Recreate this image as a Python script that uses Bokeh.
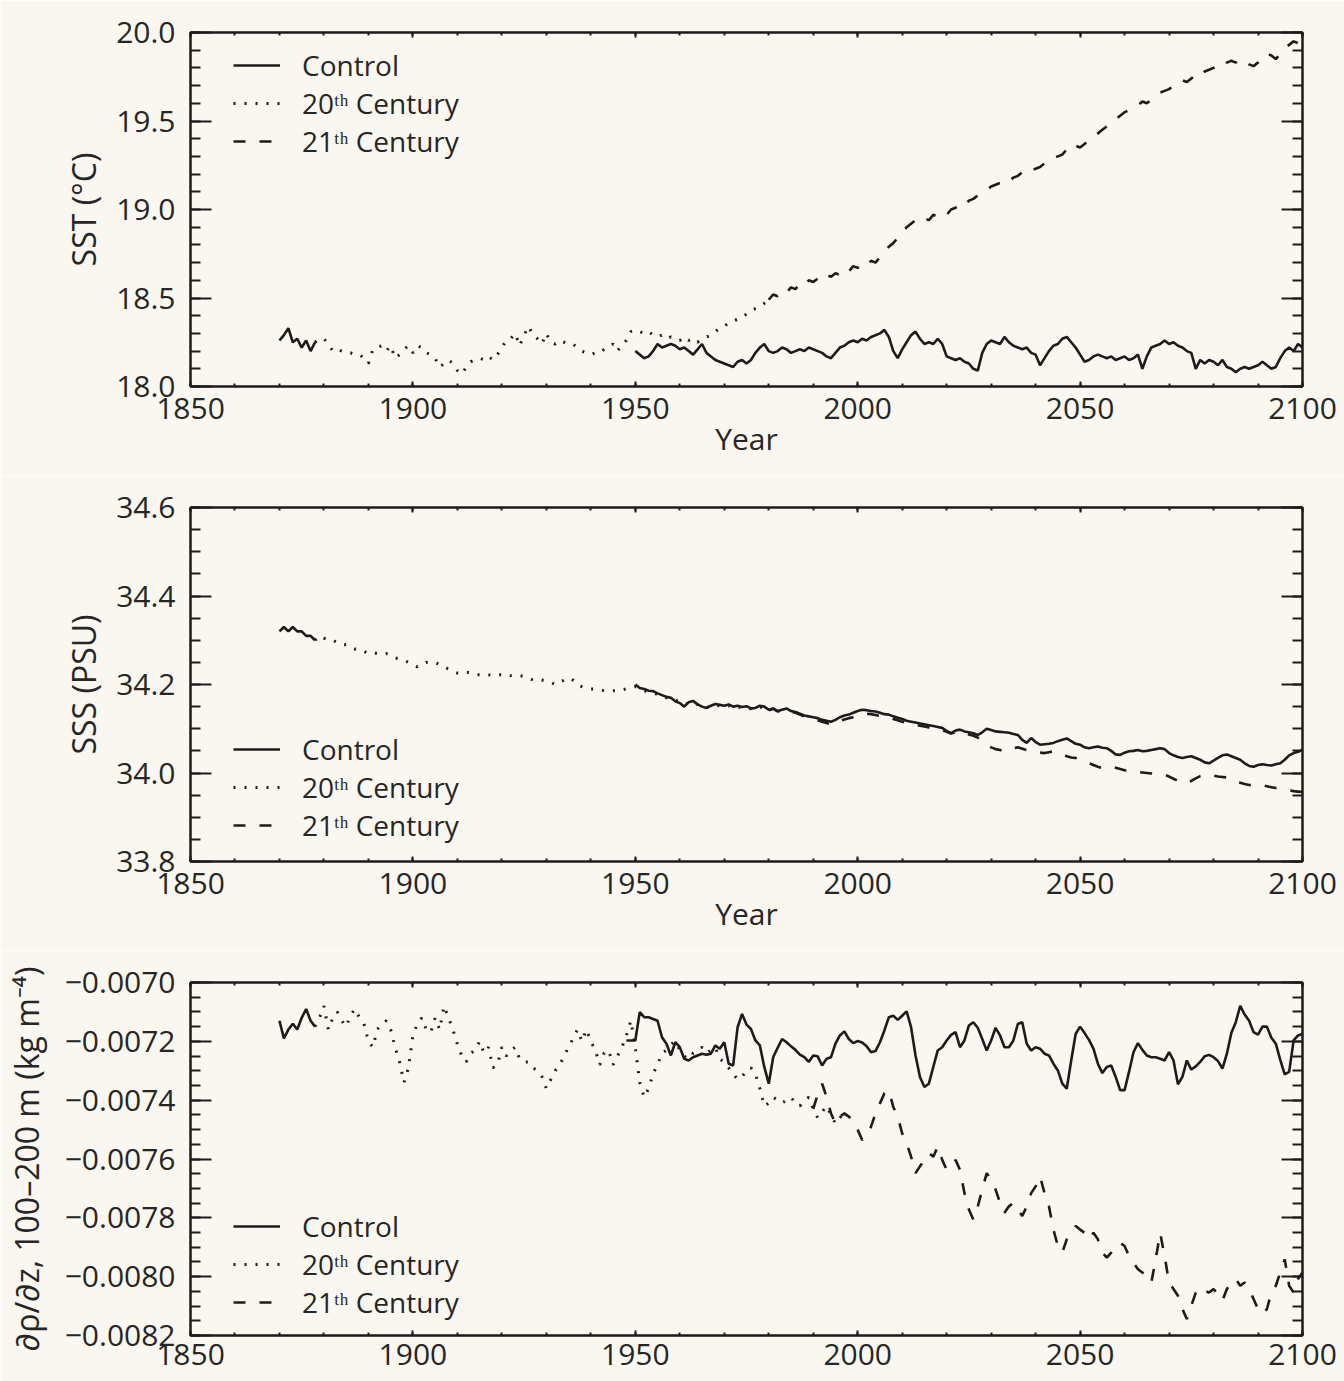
import math
from bokeh.plotting import figure
from bokeh.layouts import column
from bokeh.models import (Range1d, LinearAxis, FixedTicker, PrintfTickFormatter,
                          CustomJSTickFormatter, Legend, LegendItem)
from bokeh.embed import file_html
from bokeh.resources import INLINE

# ---------------- data ----------------
x_ticks = [1850, 1900, 1950, 2000, 2050, 2100]

# SST (deg C)
sst_ctrl_early_start = 1870
sst_ctrl_early = [18.26, 18.29, 18.33, 18.25, 18.27, 18.22, 18.26, 18.20, 18.25]
sst_ctrl_start = 1950
sst_ctrl = [18.20, 18.18, 18.16, 18.17, 18.20, 18.24, 18.22, 18.23, 18.24, 18.23,
            18.21, 18.22, 18.20, 18.18, 18.21, 18.24, 18.19, 18.17, 18.15, 18.14,
            18.13, 18.12, 18.11, 18.14, 18.15, 18.13, 18.15, 18.19, 18.22, 18.24,
            18.20, 18.19, 18.20, 18.22, 18.21, 18.19, 18.20, 18.21, 18.20, 18.22,
            18.21, 18.20, 18.19, 18.17, 18.16, 18.19, 18.22, 18.23, 18.25, 18.26,
            18.25, 18.27, 18.26, 18.28, 18.29, 18.30, 18.32, 18.28, 18.20, 18.16,
            18.21, 18.25, 18.29, 18.31, 18.27, 18.24, 18.25, 18.24, 18.27, 18.24,
            18.17, 18.16, 18.15, 18.16, 18.14, 18.13, 18.10, 18.09, 18.19, 18.24,
            18.26, 18.25, 18.24, 18.28, 18.25, 18.23, 18.22, 18.21, 18.22, 18.19,
            18.18, 18.12, 18.16, 18.20, 18.23, 18.24, 18.27, 18.28, 18.25, 18.22,
            18.18, 18.14, 18.15, 18.17, 18.18, 18.17, 18.16, 18.17, 18.15, 18.16,
            18.17, 18.15, 18.16, 18.18, 18.10, 18.17, 18.22, 18.23, 18.24, 18.26,
            18.24, 18.25, 18.23, 18.22, 18.20, 18.19, 18.10, 18.15, 18.13, 18.15,
            18.14, 18.12, 18.15, 18.11, 18.10, 18.08, 18.10, 18.11, 18.10, 18.11,
            18.12, 18.14, 18.12, 18.10, 18.11, 18.16, 18.20, 18.22, 18.20, 18.24,
            18.22]
sst_20c_start = 1878
sst_20c = [18.25, 18.27, 18.27, 18.24, 18.20, 18.21, 18.20, 18.19, 18.19, 18.18,
           18.18, 18.16, 18.13, 18.21, 18.22, 18.23, 18.20, 18.23, 18.16, 18.18,
           18.21, 18.23, 18.19, 18.23, 18.22, 18.19, 18.18, 18.16, 18.11, 18.13,
           18.15, 18.13, 18.09, 18.07, 18.11, 18.14, 18.15, 18.16, 18.15, 18.17,
           18.15, 18.18, 18.22, 18.26, 18.27, 18.30, 18.23, 18.29, 18.34, 18.29,
           18.27, 18.24, 18.30, 18.25, 18.24, 18.26, 18.25, 18.24, 18.24, 18.22,
           18.20, 18.19, 18.18, 18.19, 18.19, 18.21, 18.22, 18.24, 18.20, 18.24,
           18.26, 18.31, 18.32, 18.31, 18.30, 18.31, 18.29, 18.28, 18.29, 18.27,
           18.28, 18.27, 18.26, 18.28, 18.26, 18.27, 18.25, 18.27, 18.28, 18.29,
           18.31, 18.33, 18.34, 18.36, 18.37, 18.38, 18.39, 18.41, 18.43, 18.44,
           18.45, 18.47, 18.49]
sst_21c_start = 1980
sst_21c = [18.49, 18.52, 18.51, 18.54, 18.53, 18.56, 18.55, 18.58, 18.57, 18.60,
           18.59, 18.61, 18.60, 18.63, 18.62, 18.64, 18.63, 18.66, 18.65, 18.68,
           18.67, 18.69, 18.68, 18.71, 18.70, 18.73, 18.76, 18.79, 18.81, 18.84,
           18.87, 18.90, 18.92, 18.94, 18.93, 18.95, 18.94, 18.97, 18.96, 18.98,
           18.97, 19.00, 19.01, 19.03, 19.02, 19.05, 19.06, 19.08, 19.10, 19.11,
           19.13, 19.14, 19.15, 19.17, 19.16, 19.18, 19.19, 19.21, 19.20, 19.22,
           19.23, 19.24, 19.26, 19.27, 19.29, 19.30, 19.31, 19.34, 19.37, 19.36,
           19.35, 19.37, 19.39, 19.41, 19.43, 19.45, 19.47, 19.49, 19.51, 19.53,
           19.55, 19.56, 19.58, 19.59, 19.61, 19.60, 19.62, 19.64, 19.66, 19.67,
           19.68, 19.70, 19.71, 19.73, 19.72, 19.74, 19.76, 19.75, 19.78, 19.79,
           19.80, 19.82, 19.81, 19.83, 19.84, 19.83, 19.85, 19.84, 19.82, 19.81,
           19.83, 19.86, 19.88, 19.87, 19.85, 19.88, 19.91, 19.93, 19.95, 19.94,
           19.96]

# SSS (PSU)
sss_ctrl_early_start = 1870
sss_ctrl_early = [34.32, 34.33, 34.32, 34.33, 34.32, 34.32, 34.31, 34.31, 34.30]
sss_ctrl_start = 1950
sss_ctrl = [34.200, 34.192, 34.190, 34.186, 34.185, 34.180, 34.176, 34.172, 34.170, 34.162,
            34.158, 34.150, 34.160, 34.163, 34.155, 34.150, 34.147, 34.152, 34.156, 34.154,
            34.152, 34.155, 34.150, 34.152, 34.149, 34.151, 34.146, 34.147, 34.152, 34.150,
            34.143, 34.146, 34.140, 34.143, 34.146, 34.140, 34.138, 34.134, 34.130, 34.128,
            34.126, 34.124, 34.120, 34.118, 34.116, 34.120, 34.126, 34.130, 34.132, 34.136,
            34.140, 34.143, 34.142, 34.140, 34.139, 34.136, 34.133, 34.132, 34.128, 34.125,
            34.122, 34.118, 34.116, 34.114, 34.112, 34.110, 34.108, 34.106, 34.104, 34.102,
            34.095, 34.090, 34.096, 34.098, 34.094, 34.092, 34.090, 34.086, 34.092, 34.100,
            34.097, 34.094, 34.093, 34.092, 34.091, 34.088, 34.086, 34.075, 34.068, 34.079,
            34.070, 34.064, 34.065, 34.066, 34.068, 34.072, 34.075, 34.078, 34.072, 34.066,
            34.064, 34.058, 34.056, 34.058, 34.060, 34.057, 34.056, 34.050, 34.042, 34.041,
            34.046, 34.049, 34.050, 34.052, 34.049, 34.050, 34.052, 34.054, 34.056, 34.054,
            34.045, 34.040, 34.036, 34.034, 34.036, 34.038, 34.034, 34.030, 34.024, 34.022,
            34.028, 34.034, 34.040, 34.042, 34.038, 34.034, 34.030, 34.022, 34.016, 34.014,
            34.018, 34.020, 34.018, 34.017, 34.020, 34.022, 34.030, 34.040, 34.045, 34.048,
            34.052]
sss_20c_start = 1878
sss_20c = [34.300, 34.310, 34.305, 34.300, 34.300, 34.295, 34.290, 34.290, 34.285, 34.280,
           34.280, 34.275, 34.270, 34.272, 34.270, 34.268, 34.270, 34.265, 34.260, 34.258,
           34.255, 34.250, 34.245, 34.240, 34.245, 34.250, 34.248, 34.250, 34.245, 34.240,
           34.235, 34.230, 34.226, 34.225, 34.228, 34.226, 34.222, 34.222, 34.224, 34.222,
           34.220, 34.222, 34.222, 34.224, 34.220, 34.218, 34.220, 34.218, 34.215, 34.210,
           34.212, 34.210, 34.208, 34.205, 34.200, 34.205, 34.210, 34.215, 34.210, 34.200,
           34.195, 34.192, 34.190, 34.190, 34.188, 34.186, 34.185, 34.186, 34.185, 34.188,
           34.190, 34.192, 34.195, 34.190, 34.186, 34.183, 34.180, 34.178, 34.175, 34.170,
           34.168, 34.165, 34.160, 34.155, 34.158, 34.160, 34.155, 34.152, 34.148, 34.150,
           34.153, 34.152, 34.150, 34.152, 34.148, 34.150, 34.147, 34.148, 34.145, 34.146,
           34.149, 34.147, 34.142]
sss_21c_start = 1980
sss_21c = [34.142, 34.145, 34.139, 34.141, 34.144, 34.138, 34.136, 34.132, 34.128, 34.125,
           34.122, 34.119, 34.116, 34.113, 34.110, 34.112, 34.118, 34.121, 34.124, 34.126,
           34.128, 34.131, 34.134, 34.133, 34.131, 34.129, 34.127, 34.125, 34.122, 34.119,
           34.116, 34.113, 34.111, 34.109, 34.107, 34.105, 34.103, 34.101, 34.099, 34.097,
           34.093, 34.089, 34.092, 34.094, 34.090, 34.087, 34.084, 34.080, 34.072, 34.064,
           34.058, 34.054, 34.052, 34.049, 34.052, 34.056, 34.058, 34.055, 34.052, 34.049,
           34.047, 34.046, 34.045, 34.047, 34.049, 34.046, 34.042, 34.038, 34.035, 34.034,
           34.030, 34.026, 34.022, 34.018, 34.014, 34.011, 34.012, 34.014, 34.012, 34.009,
           34.006, 34.004, 34.003, 34.002, 34.001, 34.000, 33.999, 33.998, 33.997, 33.996,
           33.992, 33.987, 33.982, 33.978, 33.977, 33.982, 33.988, 33.993, 33.996, 33.996,
           33.994, 33.992, 33.991, 33.990, 33.986, 33.982, 33.978, 33.975, 33.973, 33.972,
           33.973, 33.972, 33.970, 33.968, 33.966, 33.965, 33.963, 33.961, 33.959, 33.958,
           33.957]

# d(rho)/dz, 100-200 m (kg m^-4)
rho_ctrl_early_start = 1870
rho_ctrl_early = [-0.00713, -0.00719, -0.00716, -0.00714, -0.00716, -0.00712, -0.00709,
                  -0.00713, -0.00715]
rho_ctrl_start = 1948
rho_ctrl = [-0.007197, -0.007197, -0.007197, -0.007101, -0.007118, -0.007118, -0.007124,
            -0.007130, -0.007186, -0.007208, -0.007248, -0.007203, -0.007220, -0.007259,
            -0.007265, -0.007254, -0.007248, -0.007242, -0.007246, -0.007242, -0.007214,
            -0.007225, -0.007203, -0.007276, -0.007282, -0.007152, -0.007107, -0.007143,
            -0.007158, -0.007197, -0.007214, -0.007287, -0.007344, -0.007254, -0.007222,
            -0.007192, -0.007203, -0.007217, -0.007229, -0.007245, -0.007254, -0.007270,
            -0.007248, -0.007251, -0.007282, -0.007259, -0.007254, -0.007208, -0.007180,
            -0.007166, -0.007192, -0.007206, -0.007199, -0.007204, -0.007217, -0.007237,
            -0.007233, -0.007203, -0.007163, -0.007118, -0.007113, -0.007127, -0.007113,
            -0.007098, -0.007152, -0.007248, -0.007321, -0.007355, -0.007344, -0.007287,
            -0.007231, -0.007220, -0.007197, -0.007178, -0.007169, -0.007220, -0.007197,
            -0.007146, -0.007135, -0.007154, -0.007192, -0.007231, -0.007197, -0.007154,
            -0.007180, -0.007220, -0.007220, -0.007197, -0.007141, -0.007135, -0.007208,
            -0.007231, -0.007220, -0.007225, -0.007242, -0.007248, -0.007276, -0.007299,
            -0.007344, -0.007361, -0.007265, -0.007175, -0.007150, -0.007172, -0.007195,
            -0.007225, -0.007276, -0.007308, -0.007287, -0.007282, -0.007321, -0.007366,
            -0.007366, -0.007304, -0.007237, -0.007206, -0.007229, -0.007248, -0.007254,
            -0.007254, -0.007259, -0.007265, -0.007237, -0.007265, -0.007346, -0.007321,
            -0.007265, -0.007296, -0.007285, -0.007270, -0.007251, -0.007246, -0.007254,
            -0.007267, -0.007293, -0.007242, -0.007172, -0.007135, -0.007079, -0.007109,
            -0.007130, -0.007169, -0.007177, -0.007150, -0.007150, -0.007188, -0.007208,
            -0.007263, -0.007312, -0.007304, -0.007197, -0.007180, -0.007175]
rho_20c_start = 1878
rho_20c = [-0.00715, -0.00712, -0.00708, -0.00716, -0.00712, -0.00710, -0.00713, -0.00715,
           -0.00711, -0.00709, -0.00712, -0.00714, -0.00720, -0.00722, -0.00716, -0.00714,
           -0.00713, -0.00716, -0.00722, -0.00727, -0.00734, -0.00729, -0.00718, -0.00714,
           -0.00712, -0.00716, -0.00717, -0.00712, -0.00716, -0.00708, -0.00712, -0.00716,
           -0.00721, -0.00725, -0.00727, -0.00724, -0.00723, -0.00720, -0.00724, -0.00722,
           -0.00729, -0.00728, -0.00722, -0.00725, -0.00723, -0.00722, -0.00726, -0.00727,
           -0.00727, -0.00729, -0.00730, -0.00732, -0.00736, -0.00733, -0.00730, -0.00728,
           -0.00725, -0.00722, -0.00719, -0.00716, -0.00720, -0.00716, -0.00720, -0.00723,
           -0.00728, -0.00724, -0.00723, -0.00728, -0.00725, -0.00722, -0.00718, -0.00713,
           -0.00722, -0.00734, -0.00739, -0.00736, -0.00731, -0.00728, -0.00724, -0.00723,
           -0.00721, -0.00720, -0.00723, -0.00725, -0.00726, -0.00724, -0.00723, -0.00722,
           -0.00724, -0.00723, -0.00722, -0.00726, -0.00727, -0.00729, -0.00731, -0.00733,
           -0.00732, -0.00730, -0.00729, -0.00731, -0.00736, -0.00742, -0.00741, -0.00739,
           -0.00740, -0.00741, -0.00740, -0.00739, -0.00741, -0.00742, -0.00740, -0.00739,
           -0.00743, -0.00746, -0.00744, -0.00742, -0.00745, -0.00748, -0.00746, -0.00744]
rho_21c_start = 1990
rho_21c = [-0.007430, -0.007380, -0.007344, -0.007389, -0.007445, -0.007479, -0.007456,
           -0.007445, -0.007456, -0.007468, -0.007501, -0.007535, -0.007524, -0.007490,
           -0.007445, -0.007411, -0.007377, -0.007366, -0.007423, -0.007456, -0.007513,
           -0.007546, -0.007592, -0.007648, -0.007625, -0.007603, -0.007580, -0.007592,
           -0.007558, -0.007603, -0.007637, -0.007625, -0.007603, -0.007637, -0.007716,
           -0.007772, -0.007806, -0.007761, -0.007704, -0.007648, -0.007670, -0.007704,
           -0.007749, -0.007783, -0.007761, -0.007749, -0.007772, -0.007794, -0.007761,
           -0.007716, -0.007693, -0.007659, -0.007716, -0.007761, -0.007840, -0.007896,
           -0.007918, -0.007873, -0.007851, -0.007828, -0.007840, -0.007851, -0.007873,
           -0.007851, -0.007873, -0.007918, -0.007935, -0.007918, -0.007896, -0.007885,
           -0.007896, -0.007930, -0.007952, -0.007975, -0.007986, -0.007997, -0.008020,
           -0.007941, -0.007851, -0.007930, -0.008020, -0.008042, -0.008065, -0.008110,
           -0.008144, -0.008099, -0.008054, -0.008037, -0.008048, -0.008054, -0.008042,
           -0.008059, -0.008082, -0.008042, -0.008020, -0.008008, -0.008031, -0.008020,
           -0.008042, -0.008076, -0.008110, -0.008127, -0.008110, -0.008054, -0.008031,
           -0.007986, -0.007941, -0.008031, -0.008054, -0.008008, -0.007986]

labels = ["Control", "20\u1d57\u02b0 Century", "21\u1d57\u02b0 Century"]

# ---------------- styling ----------------
BG = "#f9f7ef"
INK = "#1c1c1c"
FONT = "Open Sans"
TICK_FS = "30px"
YLABEL_FS = "32px"
XLABEL_FS = "30px"
LEG_FS = "28px"


def yrs(start, vals):
    return list(range(start, start + len(vals)))


def joined(s1, v1, s2, v2):
    return yrs(s1, v1) + [math.nan] + yrs(s2, v2), list(v1) + [math.nan] + list(v2)


def style_axis(ax, tick_in, minor_in, label_fs):
    ax.axis_line_color = INK
    ax.axis_line_width = 2
    ax.major_tick_line_color = INK
    ax.minor_tick_line_color = INK
    ax.major_tick_line_width = 2
    ax.minor_tick_line_width = 2
    ax.major_tick_in = tick_in
    ax.major_tick_out = 0
    ax.minor_tick_in = minor_in
    ax.minor_tick_out = 0
    ax.major_label_text_font = FONT
    ax.major_label_text_font_size = TICK_FS
    ax.major_label_text_color = "#262626"
    ax.axis_label_text_font = FONT
    ax.axis_label_text_font_size = label_fs
    ax.axis_label_text_font_style = "normal"
    ax.axis_label_text_color = "#262626"


def make_panel(height, bottom_border, y_lo, y_hi, y_major, y_minor, y_fmt, y_label,
               ylab_standoff, ctrl, c20, c21, legend_rows_y, xlabel, xlab_standoff):
    p = figure(width=1344, height=height, output_backend="svg", toolbar_location=None,
               x_range=Range1d(1850, 2100), y_range=Range1d(y_lo, y_hi),
               min_border_left=190, min_border_right=42, min_border_top=32,
               min_border_bottom=bottom_border,
               background_fill_color=BG, border_fill_color=BG,
               outline_line_color=INK, outline_line_width=2)
    p.grid.visible = False
    p.xaxis.ticker = FixedTicker(ticks=x_ticks, minor_ticks=list(range(1850, 2101, 10)))
    p.yaxis.ticker = FixedTicker(ticks=y_major, minor_ticks=y_minor)
    p.yaxis.formatter = y_fmt
    style_axis(p.xaxis[0], 5, 3, XLABEL_FS)
    style_axis(p.yaxis[0], 21, 10, YLABEL_FS)
    p.xaxis.major_label_standoff = xlab_standoff
    p.yaxis.major_label_standoff = 15
    p.xaxis.axis_label = xlabel
    p.xaxis.axis_label_standoff = -4
    p.yaxis.axis_label = y_label
    p.yaxis.axis_label_standoff = ylab_standoff

    blank = CustomJSTickFormatter(code="return ''")
    top = LinearAxis(ticker=FixedTicker(ticks=x_ticks, minor_ticks=list(range(1850, 2101, 10))),
                     formatter=blank, major_label_standoff=0)
    style_axis(top, 5, 3, XLABEL_FS)
    right = LinearAxis(ticker=FixedTicker(ticks=y_major, minor_ticks=y_minor),
                       formatter=blank, major_label_standoff=0)
    style_axis(right, 21, 10, YLABEL_FS)
    p.add_layout(top, "above")
    p.add_layout(right, "right")

    xs, ys = ctrl
    r0 = p.line(xs, ys, line_color=INK, line_width=2.6)
    xs, ys = c20
    r1 = p.line(xs, ys, line_color=INK, line_width=3, line_dash="2 9")
    xs, ys = c21
    r2 = p.line(xs, ys, line_color=INK, line_width=2.6, line_dash="12 14")

    for label, rend, ly in zip(labels, [r0, r1, r2], legend_rows_y):
        leg = Legend(items=[LegendItem(label=label, renderers=[rend])],
                     location=(43, ly), orientation="vertical",
                     padding=0, margin=0, spacing=0,
                     glyph_width=47, glyph_height=30, label_height=30, label_standoff=22,
                     label_text_font=FONT, label_text_font_size=LEG_FS,
                     label_text_color="#262626",
                     background_fill_alpha=0, border_line_alpha=0)
        p.add_layout(leg)
    return p


minor1 = [round(18.0 + 0.1 * i, 2) for i in range(21)]
minor2 = [round(33.8 + 0.05 * i, 3) for i in range(17)]
minor3 = [round(-0.0082 + 0.00005 * i, 6) for i in range(25)]

p1 = make_panel(475, 89, 18.0, 20.0, [18.0, 18.5, 19.0, 19.5, 20.0], minor1,
                PrintfTickFormatter(format="%.1f"), "SST (\u00b0C)", 8,
                joined(sst_ctrl_early_start, sst_ctrl_early, sst_ctrl_start, sst_ctrl),
                (yrs(sst_20c_start, sst_20c), sst_20c),
                (yrs(sst_21c_start, sst_21c), sst_21c),
                (302, 264, 226), "Year", 11)

p2 = make_panel(475, 89, 33.8, 34.6, [33.8, 34.0, 34.2, 34.4, 34.6], minor2,
                PrintfTickFormatter(format="%.1f"), "SSS (PSU)", 8,
                joined(sss_ctrl_early_start, sss_ctrl_early, sss_ctrl_start, sss_ctrl),
                (yrs(sss_20c_start, sss_20c), sss_20c),
                (yrs(sss_21c_start, sss_21c), sss_21c),
                (93, 55, 17), "Year", 11)

p3 = make_panel(431, 46, -0.0082, -0.0070,
                [-0.0082, -0.0080, -0.0078, -0.0076, -0.0074, -0.0072, -0.0070], minor3,
                CustomJSTickFormatter(code="return tick.toFixed(4).replace('-', '\u2212')"),
                "\u2202\u03c1/\u2202z, 100\u2013200 m (kg m\u207b\u2074)", 14,
                joined(rho_ctrl_early_start, rho_ctrl_early, rho_ctrl_start, rho_ctrl),
                (yrs(rho_20c_start, rho_20c), rho_20c),
                (yrs(rho_21c_start, rho_21c), rho_21c),
                (90, 52, 14), None, 8)

layout = column(p1, p2, p3, spacing=0)
open("out.html", "w").write(file_html(layout, INLINE, title="Ocean indicators"))
